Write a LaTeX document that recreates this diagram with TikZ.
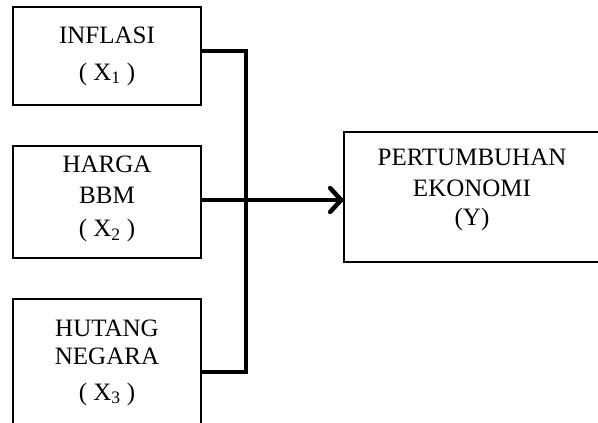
\documentclass[tikz,border=0pt]{standalone}
\usepackage{fontspec}
\setmainfont{Liberation Serif}
\usetikzlibrary{arrows.meta}
\newcommand{\lowpad}[1]{\rule[-#1]{0pt}{1pt}}

\begin{document}
\begin{tikzpicture}[x=1pt,y=-1pt]
\tikzstyle{every node}=[font=\fontsize{25}{31}\selectfont,align=center];
\tikzstyle{var}=[draw,line width=1.3pt,minimum width=188pt,inner sep=0pt];
\tikzstyle{link}=[line width=4pt];
\useasboundingbox (0,0) rectangle (598,423);
\clip (0,0) rectangle (598,423);
\node[var,minimum height=98pt] (x1) at (107,56) {INFLASI\\[6pt]( X\textsubscript{1} )};
\node[var,minimum height=112pt] (x2) at (107,202) {HARGA\\BBM\\[2pt]( X\textsubscript{2} )\lowpad{11pt}};
\node[var,minimum height=127pt] (x3) at (107,362.5) {HUTANG\\[-3pt]NEGARA\\[5pt]( X\textsubscript{3} )};
\node[var,minimum width=256pt,minimum height=130pt] (y) at (472,197) {PERTUMBUHAN\\EKONOMI\\[-2pt](Y)\lowpad{19pt}};
\coordinate (top) at (246,51);
\coordinate (mid) at (246,200);
\coordinate (bot) at (246,372);
\draw[link] (x1.east |- top) -- (top) -- (bot) -- (x3.east |- bot);
\draw[link,-{Straight Barb[length=11pt,width=24pt,line width=4.5pt,round]}] (x2.east |- mid) -- (y.west |- mid);
\node[anchor=base west,font=\fontsize{31}{37}\selectfont\bfseries] (cap) at (260,445) {Gambar 1};
\end{tikzpicture}
\end{document}
